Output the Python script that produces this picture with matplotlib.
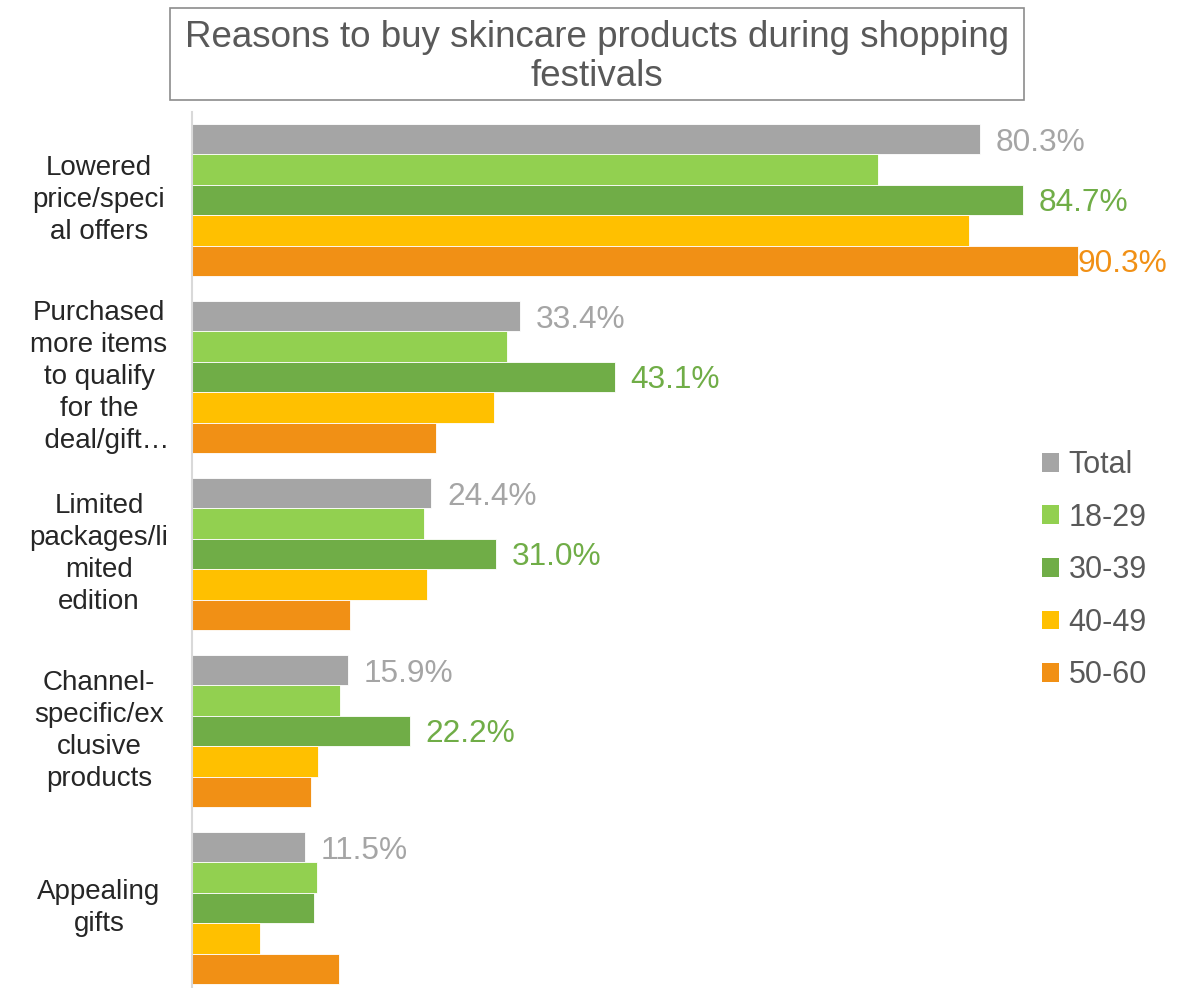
import matplotlib.pyplot as plt
import matplotlib.transforms as mtransforms
from matplotlib.patches import Rectangle, Patch
import numpy as np

plt.rcParams['font.family'] = ['Liberation Sans', 'DejaVu Sans']

## data
categories = ["Lowered\nprice/speci\nal offers",
              "Purchased\nmore items\nto qualify\nfor the\n  deal/gift\u2026",
              "Limited\npackages/li\nmited\nedition",
              "Channel-\nspecific/ex\nclusive\nproducts",
              "Appealing\ngifts"]
groups = ["Total", "18-29", "30-39", "40-49", "50-60"]
total = [80.3, 33.4, 24.4, 15.9, 11.5]
age_18_29 = [69.9, 32.1, 23.6, 15.1, 12.7]
age_30_39 = [84.7, 43.1, 31.0, 22.2, 12.4]
age_40_49 = [79.2, 30.8, 24.0, 12.8, 6.9]
age_50_60 = [90.3, 24.9, 16.1, 12.1, 15.0]
# which bars carry a value label
label_total = [True, True, True, True, True]
label_30_39 = [True, True, True, True, False]
label_50_60 = [True, False, False, False, False]

series = [total, age_18_29, age_30_39, age_40_49, age_50_60]
colors = ["#A5A5A5", "#92D050", "#70AD47", "#FFC000", "#F19015"]
label_colors = ["#A5A5A5", None, "#70AD47", None, "#F19015"]
label_flags = [label_total, None, label_30_39, None, label_50_60]

fig = plt.figure(figsize=(11.84, 9.88), dpi=100)
ax = fig.add_axes([192 / 1184, 0, 981 / 1184, 876 / 988])

y = np.arange(len(categories))
h = 30.4 / 177
for j in range(len(groups)):
    pos = y + (j - 2) * h
    ax.barh(pos, series[j], height=h, color=colors[j], edgecolor="white",
            linewidth=0.6, label=groups[j])
    if label_flags[j] is None:
        continue
    for k, v in enumerate(series[j]):
        if label_flags[j][k]:
            pad = 0 if v > 88 else 1.6
            ax.text(v + pad, pos[k], f"{v:.1f}%", va="center_baseline", ha="left",
                    fontsize=22.8, color=label_colors[j])

ax.set_xlim(0, 100)
ax.set_ylim(4.452, -0.497)
ax.set_xticks([])
ax.set_yticks([])
for s in ["top", "right", "bottom"]:
    ax.spines[s].set_visible(False)
ax.spines["left"].set_color("#D9D9D9")
ax.spines["left"].set_linewidth(1.5)

trans = mtransforms.blended_transform_factory(fig.transFigure, ax.transData)
for k, cat in enumerate(categories):
    ax.text(99 / 1184, y[k], cat, transform=trans, ha="center", va="center",
            multialignment="center", fontsize=20, color="#262626", linespacing=1.31)

handles = [Patch(facecolor=c, edgecolor="none") for c in colors]
leg = fig.legend(handles, groups, loc="upper left",
                 bbox_to_anchor=(1042 / 1184, 1 - 450 / 988), frameon=False,
                 fontsize=22, handlelength=0.57, handleheight=0.57,
                 handletextpad=0.3, labelspacing=0.74, borderpad=0, borderaxespad=0)
for t in leg.get_texts():
    t.set_color("#595959")

## title box
fig.add_artist(Rectangle((170 / 1184, 1 - 100 / 988), 854 / 1184, 92 / 988,
                         transform=fig.transFigure, fill=False,
                         edgecolor="#8C8C8C", linewidth=1.2))
fig.text(597 / 1184, 1 - 57 / 988,
         "Reasons to buy skincare products during shopping\nfestivals",
         ha="center", va="center", fontsize=26.5, color="#595959", linespacing=1.17)

plt.savefig("out.png", dpi=100)
